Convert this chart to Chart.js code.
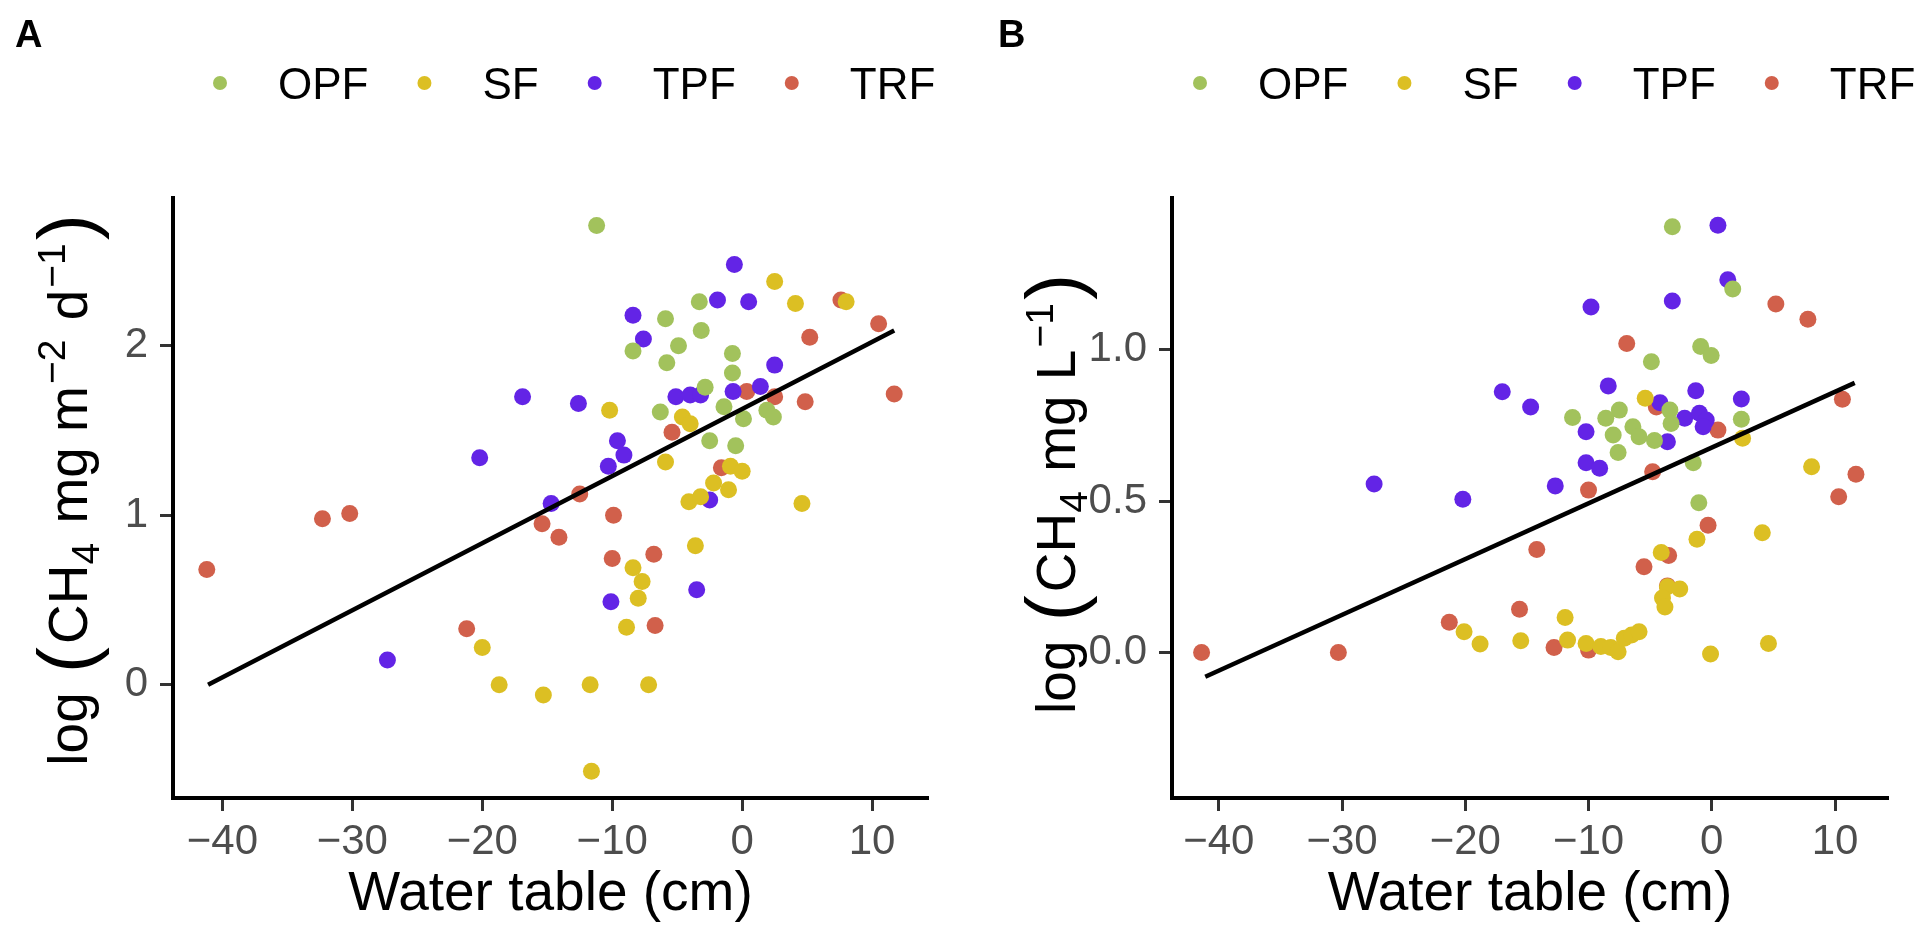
<!DOCTYPE html>
<html>
<head>
<meta charset="utf-8">
<script src="https://cdn.jsdelivr.net/npm/chart.js@4"></script>
<style>
  html, body { margin: 0; padding: 0; background: #fff; }
  #wrap { position: relative; width: 1919px; height: 935px; }
  canvas { position: absolute; top: 0; }
  #chartA { left: 0; }
  #chartB { left: 960px; }
</style>
</head>
<body>
<div id="wrap">
  <canvas id="chartA" width="960" height="935"></canvas>
  <canvas id="chartB" width="959" height="935"></canvas>
</div>
<script>
const FONT = '"Liberation Sans", Arial, sans-serif';

const groups = ['OPF', 'SF', 'TPF', 'TRF'];
const groupColors = ['#a2c25c', '#dcbf23', '#6324e6', '#d1604b'];

const xTicks = [-40, -30, -20, -10, 0, 10];
const fluxTicks = [0, 1, 2];
const concTicks = [0, 0.5, 1];

// A: water table (cm) vs log CH4 flux
const fluxOPF = [
  [-11.2, 2.71], [-3.3, 2.26], [-5.9, 2.16], [-3.15, 2.09], [-8.4, 1.97], [-4.9, 2.0],
  [-5.8, 1.90], [-0.75, 1.955], [-0.75, 1.84], [-2.85, 1.755], [-6.3, 1.61], [-1.4, 1.64],
  [0.1, 1.57], [1.9, 1.62], [2.4, 1.58], [-2.5, 1.44], [-0.5, 1.41]
];
const fluxSF = [
  [2.5, 2.38], [4.1, 2.25], [8.0, 2.26], [-10.2, 1.62], [-4.6, 1.58], [-4.0, 1.54],
  [-5.9, 1.315], [-0.9, 1.29], [0.0, 1.26], [-2.2, 1.19], [-1.05, 1.15], [-4.1, 1.08],
  [-3.2, 1.11], [4.6, 1.07], [-3.6, 0.82], [-8.4, 0.69], [-7.7, 0.61], [-8.0, 0.51],
  [-8.9, 0.34], [-11.7, 0.0], [-7.2, 0.0], [-11.6, -0.51], [-20.0, 0.22], [-18.7, 0.0],
  [-15.3, -0.06]
];
const fluxTPF = [
  [-8.4, 2.18], [-7.6, 2.04], [-0.6, 2.48], [-1.9, 2.27], [0.5, 2.26], [2.5, 1.886],
  [-16.9, 1.70], [-12.6, 1.66], [-5.1, 1.70], [-4.0, 1.71], [-3.2, 1.71], [-0.7, 1.73],
  [1.4, 1.76], [-9.6, 1.44], [-9.1, 1.355], [-10.3, 1.29], [-20.2, 1.34], [-14.7, 1.07],
  [-2.5, 1.09], [-10.1, 0.49], [-3.5, 0.56], [-27.3, 0.146]
];
const fluxTRF = [
  [7.6, 2.27], [10.5, 2.13], [5.2, 2.05], [0.35, 1.73], [2.5, 1.70], [4.85, 1.67],
  [11.7, 1.715], [-5.4, 1.49], [-1.6, 1.28], [-12.5, 1.125], [-15.4, 0.95], [-14.1, 0.87],
  [-9.9, 1.0], [-10.0, 0.745], [-6.8, 0.77], [-6.7, 0.35], [-32.3, 0.98], [-30.2, 1.01],
  [-41.2, 0.68], [-21.2, 0.33]
];
const fluxFit = [[-41.1, 0.0], [11.7, 2.09]];

// B: water table (cm) vs log CH4 concentration
const concOPF = [
  [-3.2, 1.405], [1.7, 1.20], [-0.9, 1.01], [-0.05, 0.98], [-4.9, 0.96], [-11.3, 0.776],
  [-8.6, 0.773], [-7.5, 0.80], [-6.4, 0.745], [-8.0, 0.718], [-5.9, 0.712], [-4.65, 0.70],
  [-3.4, 0.80], [-3.3, 0.756], [2.4, 0.77], [-7.6, 0.66], [-1.5, 0.626], [-1.05, 0.494]
];
const concSF = [
  [-5.4, 0.839], [2.5, 0.707], [8.1, 0.613], [-1.2, 0.374], [4.1, 0.395], [-4.1, 0.33],
  [-3.6, 0.217], [-2.6, 0.21], [-4.0, 0.18], [-3.8, 0.15], [-11.9, 0.116], [-11.7, 0.041],
  [-10.2, 0.03], [-9.0, 0.02], [-8.2, 0.017], [-7.6, 0.003], [-7.1, 0.047], [-6.5, 0.058],
  [-5.9, 0.069], [-0.1, -0.005], [4.6, 0.03], [-20.1, 0.069], [-18.8, 0.028], [-15.5, 0.039]
];
const concTPF = [
  [0.5, 1.41], [1.3, 1.23], [-9.8, 1.14], [-3.2, 1.16], [-17.0, 0.861], [-14.7, 0.81],
  [-27.4, 0.556], [-20.2, 0.506], [-8.4, 0.88], [-1.3, 0.864], [2.4, 0.837], [-4.2, 0.824],
  [-2.2, 0.773], [-1.0, 0.79], [-0.45, 0.767], [-0.7, 0.745], [-10.2, 0.729], [-3.6, 0.696],
  [-10.2, 0.626], [-9.1, 0.608], [-12.7, 0.55]
];
const concTRF = [
  [5.2, 1.15], [7.8, 1.10], [-6.9, 1.02], [0.5, 0.734], [-4.5, 0.81], [-10.0, 0.536],
  [-4.8, 0.597], [11.7, 0.588], [10.3, 0.514], [10.6, 0.836], [-14.2, 0.34], [-0.3, 0.42],
  [-3.5, 0.32], [-5.5, 0.283], [-3.6, 0.22], [-12.8, 0.017], [-10.0, 0.008], [-41.4, 0.0],
  [-30.3, 0.0], [-21.3, 0.10], [-15.6, 0.143]
];
const concFit = [[-41.1, -0.08], [11.6, 0.89]];

const toPoints = arr => arr.map(p => ({ x: p[0], y: p[1] }));
const minus = v => (v < 0 ? '\u2212' + Math.abs(v) : String(v));

// draws a run of text pieces (with sub/superscripts) rotated, centred on cx, cy
function drawRich(ctx, parts, cx, cy) {
  ctx.save();
  ctx.translate(cx, cy);
  ctx.rotate(-Math.PI / 2);
  ctx.textAlign = 'left';
  ctx.textBaseline = 'alphabetic';
  ctx.fillStyle = '#000';
  const widths = parts.map(p => {
    ctx.font = p.s + 'px ' + FONT;
    return ctx.measureText(p.t).width + (p.gap || 0);
  });
  let x = -widths.reduce((a, b) => a + b, 0) / 2;
  parts.forEach((p, i) => {
    ctx.font = p.s + 'px ' + FONT;
    ctx.fillText(p.t, x, 20 + (p.dy || 0));
    x += widths[i];
  });
  ctx.restore();
}

function decor(opts) {
  return {
    id: 'decor',
    afterDraw(chart) {
      const ctx = chart.ctx;
      const area = chart.chartArea;
      ctx.save();
      ctx.fillStyle = '#000';
      ctx.textBaseline = 'alphabetic';
      ctx.textAlign = 'left';
      ctx.font = 'bold 38px ' + FONT;
      ctx.fillText(opts.tag, opts.tagX, 47);

      // legend row
      ctx.font = '44px ' + FONT;
      let x = opts.legendX;
      groups.forEach((g, i) => {
        ctx.fillStyle = groupColors[i];
        ctx.beginPath();
        ctx.arc(x, 83, 7, 0, Math.PI * 2);
        ctx.fill();
        ctx.fillStyle = '#000';
        ctx.fillText(g, x + 58, 99);
        x += 58 + ctx.measureText(g).width + 56;
      });

      ctx.textAlign = 'center';
      ctx.font = '55px ' + FONT;
      ctx.fillText('Water table (cm)', (area.left + area.right) / 2, 910);
      ctx.restore();

      drawRich(ctx, opts.yTitle, opts.yTitleX, (area.top + area.bottom) / 2 + opts.yTitleShift);
    }
  };
}

function buildPanel(canvasId, opts) {
  const datasets = [{
    type: 'line',
    data: toPoints(opts.fit),
    borderColor: '#000',
    borderWidth: 4.5,
    pointRadius: 0,
    order: 0
  }];
  opts.series.forEach((s, i) => datasets.push({
    label: groups[i],
    data: toPoints(s),
    backgroundColor: groupColors[i],
    borderWidth: 0,
    pointRadius: 8.5,
    pointHoverRadius: 8.5,
    pointBorderWidth: 0,
    order: 1
  }));

  return new Chart(document.getElementById(canvasId), {
    type: 'scatter',
    data: { datasets },
    options: {
      responsive: false,
      animation: false,
      devicePixelRatio: 1,
      layout: { padding: { left: 0, right: opts.padRight, top: 198, bottom: 0 } },
      plugins: { legend: { display: false }, tooltip: { enabled: false } },
      scales: {
        x: {
          type: 'linear',
          min: -43.8,
          max: 14.3,
          afterFit: s => { s.height = 137; },
          afterBuildTicks: s => { s.ticks = xTicks.map(v => ({ value: v })); },
          grid: { drawOnChartArea: false, drawTicks: true, tickLength: 13, tickWidth: 3, tickColor: '#333' },
          border: { display: true, color: '#000', width: 4 },
          ticks: {
            color: '#4d4d4d', padding: 6, maxRotation: 0, autoSkip: false,
            font: { family: FONT, size: 42 },
            callback: v => minus(v)
          }
        },
        y: {
          type: 'linear',
          min: opts.yMin,
          max: opts.yMax,
          afterFit: s => { s.width = opts.yWidth; },
          afterBuildTicks: s => { s.ticks = opts.yTicks.map(v => ({ value: v })); },
          grid: { drawOnChartArea: false, drawTicks: true, tickLength: 13, tickWidth: 3, tickColor: '#333' },
          border: { display: true, color: '#000', width: 4 },
          ticks: {
            color: '#4d4d4d', padding: 12, autoSkip: false,
            font: { family: FONT, size: 42 },
            callback: v => opts.fmt(v)
          }
        }
      }
    },
    plugins: [decor(opts)]
  });
}

Chart.defaults.font.family = FONT;

buildPanel('chartA', {
  tag: 'A', tagX: 15, legendX: 220,
  series: [fluxOPF, fluxSF, fluxTPF, fluxTRF],
  fit: fluxFit,
  yMin: -0.668, yMax: 2.872, yTicks: fluxTicks, yWidth: 173, padRight: 32,
  fmt: v => String(v),
  yTitleX: 67, yTitleShift: -8,
  yTitle: [
    { t: 'log ', s: 55, gap: 4 }, { t: '(', s: 78, dy: 6, gap: 3 }, { t: 'CH', s: 55 },
    { t: '4', s: 39, dy: 12, gap: 4 }, { t: ' mg m', s: 55, gap: 2 }, { t: '\u22122', s: 39, dy: -22, gap: 4 },
    { t: ' d', s: 55, gap: 2 }, { t: '\u22121', s: 39, dy: -22, gap: 3 }, { t: ')', s: 78, dy: 6 }
  ]
});

buildPanel('chartB', {
  tag: 'B', tagX: 38, legendX: 240,
  series: [concOPF, concSF, concTPF, concTRF],
  fit: concFit,
  yMin: -0.48, yMax: 1.5, yTicks: concTicks, yWidth: 212, padRight: 31,
  fmt: v => v.toFixed(1),
  yTitleX: 95, yTitleShift: -4,
  yTitle: [
    { t: 'log ', s: 55, gap: 4 }, { t: '(', s: 78, dy: 6, gap: 3 }, { t: 'CH', s: 55 },
    { t: '4', s: 39, dy: 12, gap: 4 }, { t: ' mg L', s: 55, gap: 2 }, { t: '\u22121', s: 39, dy: -22, gap: 3 },
    { t: ')', s: 78, dy: 6 }
  ]
});
</script>
</body>
</html>
